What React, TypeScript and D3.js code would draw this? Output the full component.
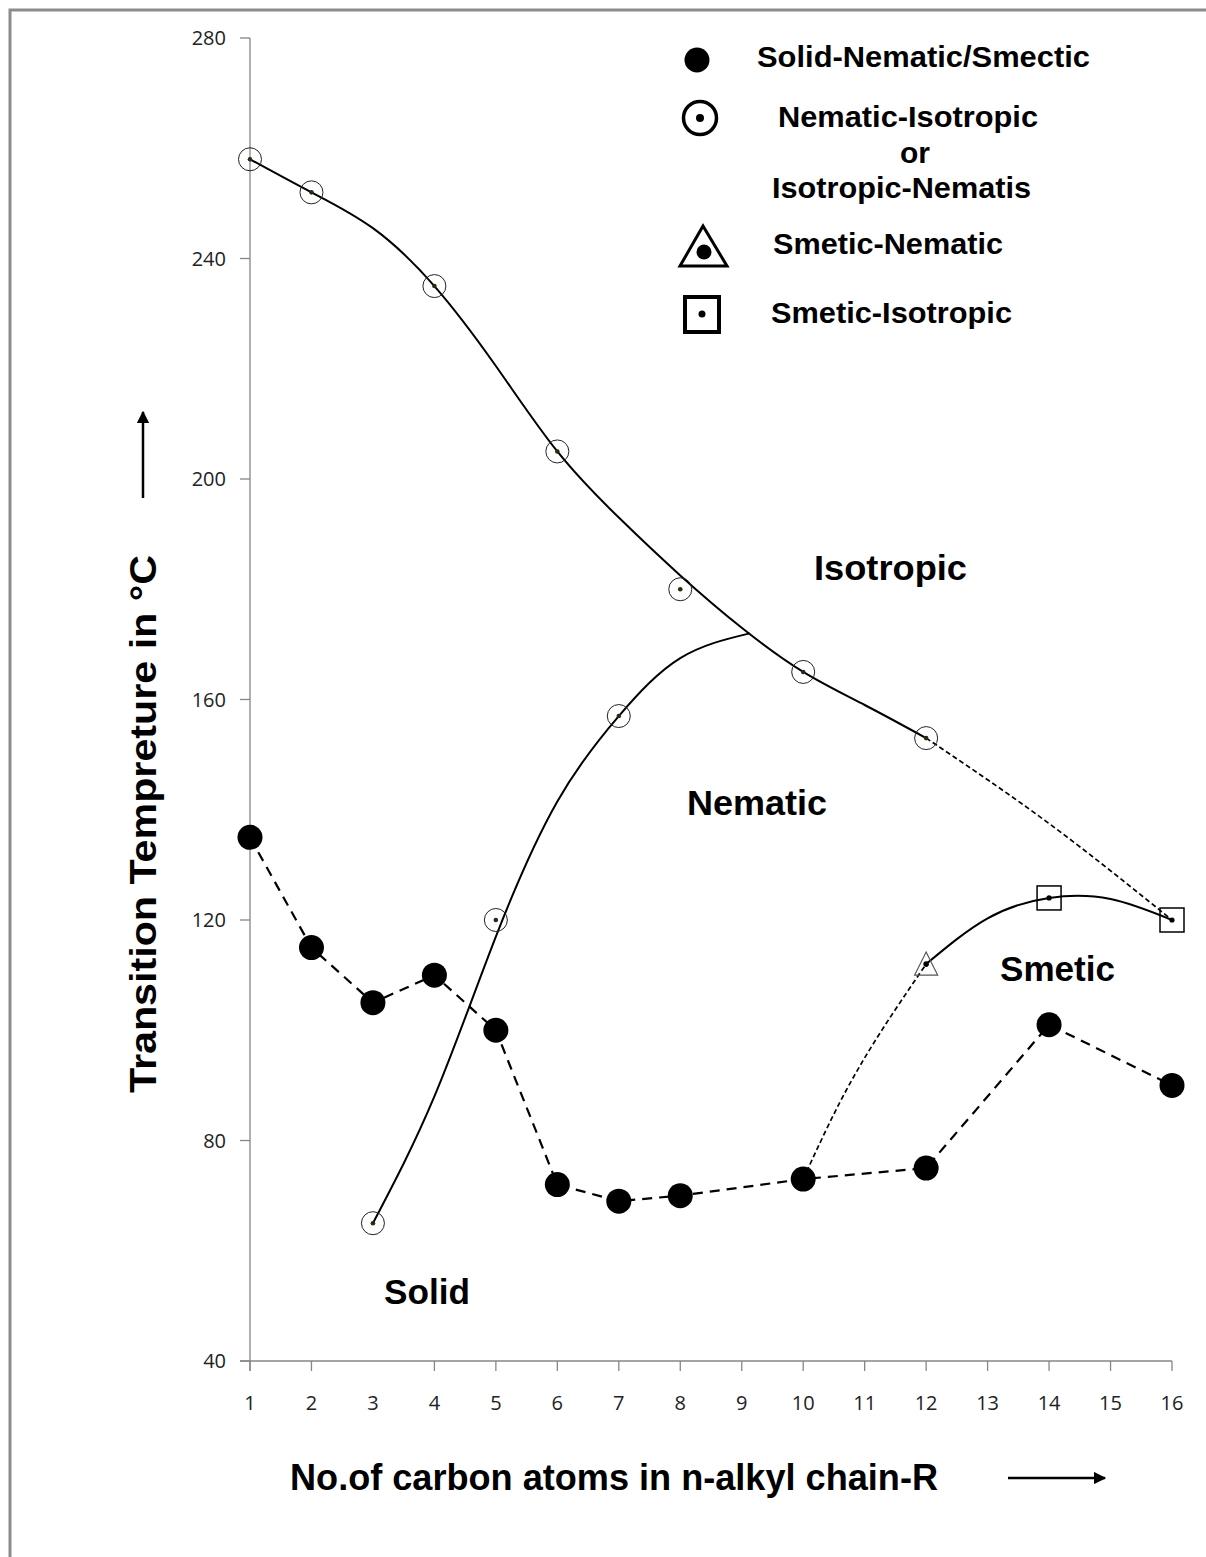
import React from 'react'
import * as d3 from 'd3'

// Solid-Nematic/Smectic (filled dots, dashed line)
const solidX = [1, 2, 3, 4, 5, 6, 7, 8, 10, 12, 14, 16]
const solidY = [135, 115, 105, 110, 100, 72, 69, 70, 73, 75, 101, 90]

// Nematic-Isotropic / Isotropic-Nematic (circled dots)
const niX = [1, 2, 3, 4, 5, 6, 7, 8, 10, 12]
const niY = [258, 252, 65, 235, 120, 205, 157, 180, 165, 153]

// Smetic-Nematic (triangle) and Smetic-Isotropic (squares)
const snX = [12]
const snY = [112]
const siX = [14, 16]
const siY = [124, 120]

// hand-drawn guide curves
const isoCurveX = [1, 2, 3, 4, 5, 6, 7, 8, 9, 10, 11, 12]
const isoCurveY = [258, 252, 245.5, 235, 220.5, 205, 193, 182.5, 173, 165, 159, 153]
const isoDashX = [12, 14, 16]
const isoDashY = [153, 137.5, 120]
const nemCurveX = [3, 4, 5, 6, 7, 8, 9.13]
const nemCurveY = [65, 88, 117, 141.5, 157, 167.5, 172]
const smDashX = [10, 10.6, 11.25, 12]
const smDashY = [73, 87, 99.5, 112]
const smCurveX = [12, 13, 14, 15, 16]
const smCurveY = [112, 120.3, 124, 123.8, 120]

const xTicks = d3.range(1, 17)
const yTicks = [40, 80, 120, 160, 200, 240, 280]

const zip = (xs: number[], ys: number[]) => xs.map((x, i) => [x, ys[i]] as [number, number])

export default function App() {
  const width = 1206
  const height = 1557

  const x = d3.scaleLinear().domain([1, 16]).range([250, 1172])
  const y = d3.scaleLinear().domain([40, 280]).range([1361, 38])

  const straight = d3.line<[number, number]>().x(d => x(d[0])).y(d => y(d[1]))
  const smooth = d3
    .line<[number, number]>()
    .x(d => x(d[0]))
    .y(d => y(d[1]))
    .curve(d3.curveNatural)

  const bold = { fontFamily: 'Liberation Sans, Arial, sans-serif', fontWeight: 700, fill: '#000' }
  const tickFont = { fontFamily: 'Open Sans, sans-serif', fontSize: 20, fill: '#222' }
  const axisColor = '#868686'

  return (
    <svg
      width={width}
      height={height}
      style={{ position: 'absolute', left: 0, top: 0, background: '#fff' }}
    >
      <defs>
        <marker id="arrow" viewBox="0 0 10 10" refX="9" refY="5" markerWidth="5" markerHeight="5" orient="auto">
          <path d="M0,0 L10,5 L0,10 z" fill="#000" />
        </marker>
      </defs>

      {/* frame */}
      <path d={`M10,${height} L10,10 L${width},10`} fill="none" stroke="#8c8c8c" strokeWidth={3} />

      {/* axes */}
      <line x1={x(1)} x2={x(1)} y1={y(280)} y2={y(40) + 10} stroke={axisColor} strokeWidth={1.3} />
      <line x1={x(1) - 10} x2={x(16)} y1={y(40)} y2={y(40)} stroke={axisColor} strokeWidth={1.3} />
      {yTicks.map(t => (
        <g key={t}>
          <line x1={x(1) - 10} x2={x(1)} y1={y(t)} y2={y(t)} stroke={axisColor} strokeWidth={1.3} />
          <text x={226} y={y(t) + 7} textAnchor="end" {...tickFont}>
            {t}
          </text>
        </g>
      ))}
      {xTicks.map(t => (
        <g key={t}>
          {t !== 3 && (
            <line x1={x(t)} x2={x(t)} y1={y(40)} y2={y(40) + 10} stroke={axisColor} strokeWidth={1.3} />
          )}
          <text x={x(t)} y={1410} textAnchor="middle" {...tickFont}>
            {t}
          </text>
        </g>
      ))}

      {/* curves */}
      <path d={smooth(zip(isoCurveX, isoCurveY)) || ''} fill="none" stroke="#000" strokeWidth={2} />
      <path d={smooth(zip(isoDashX, isoDashY)) || ''} fill="none" stroke="#000" strokeWidth={1.7} strokeDasharray="5,3" />
      <path d={smooth(zip(nemCurveX, nemCurveY)) || ''} fill="none" stroke="#000" strokeWidth={2} />
      <path d={smooth(zip(smDashX, smDashY)) || ''} fill="none" stroke="#000" strokeWidth={1.7} strokeDasharray="5,3" />
      <path d={smooth(zip(smCurveX, smCurveY)) || ''} fill="none" stroke="#000" strokeWidth={2} />
      <path d={straight(zip(solidX, solidY)) || ''} fill="none" stroke="#000" strokeWidth={2.2} strokeDasharray="10,7" />

      {/* markers */}
      {zip(solidX, solidY).map(([cx, cy], i) => (
        <circle key={'s' + i} cx={x(cx)} cy={y(cy)} r={12.5} fill="#000" />
      ))}
      {zip(niX, niY).map(([cx, cy], i) => (
        <g key={'n' + i}>
          <circle cx={x(cx)} cy={y(cy)} r={11.5} fill="none" stroke="#222" strokeWidth={1} />
          <circle cx={x(cx)} cy={y(cy)} r={2.3} fill="#2a2a12" />
        </g>
      ))}
      {zip(snX, snY).map(([cx, cy], i) => (
        <g key={'t' + i}>
          <path
            d={`M${x(cx)},${y(cy) - 12} L${x(cx) + 11.5},${y(cy) + 11} L${x(cx) - 11.5},${y(cy) + 11} Z`}
            fill="none"
            stroke="#555"
            strokeWidth={1.2}
          />
          <circle cx={x(cx)} cy={y(cy)} r={2.8} fill="#000" />
        </g>
      ))}
      {zip(siX, siY).map(([cx, cy], i) => (
        <g key={'q' + i}>
          <rect x={x(cx) - 12} y={y(cy) - 12} width={24} height={24} fill="none" stroke="#000" strokeWidth={1.5} />
          <circle cx={x(cx)} cy={y(cy)} r={2.6} fill="#000" />
        </g>
      ))}

      {/* legend */}
      <circle cx={697} cy={60} r={12.5} fill="#000" />
      <circle cx={700} cy={118} r={16.5} fill="none" stroke="#000" strokeWidth={3.5} />
      <circle cx={700} cy={118} r={4} fill="#000" />
      <path d="M703,226 L727,266 L680,266 Z" fill="none" stroke="#000" strokeWidth={3} strokeLinejoin="miter" />
      <circle cx={704} cy={252} r={7.5} fill="#000" />
      <rect x={685} y={297} width={34} height={35} fill="none" stroke="#000" strokeWidth={4} />
      <circle cx={702} cy={314} r={3.5} fill="#000" />

      <text x={757} y={67} fontSize={30} textLength={333} lengthAdjust="spacingAndGlyphs" {...bold}>
        Solid-Nematic/Smectic
      </text>
      <text x={778} y={127} fontSize={30} textLength={260} lengthAdjust="spacingAndGlyphs" {...bold}>
        Nematic-Isotropic
      </text>
      <text x={915} y={163} fontSize={30} textAnchor="middle" {...bold}>
        or
      </text>
      <text x={772} y={198} fontSize={30} textLength={259} lengthAdjust="spacingAndGlyphs" {...bold}>
        Isotropic-Nematis
      </text>
      <text x={773} y={254} fontSize={30} textLength={230} lengthAdjust="spacingAndGlyphs" {...bold}>
        Smetic-Nematic
      </text>
      <text x={771} y={323} fontSize={30} textLength={241} lengthAdjust="spacingAndGlyphs" {...bold}>
        Smetic-Isotropic
      </text>

      {/* region labels */}
      <text x={814} y={580} fontSize={35} textLength={153} lengthAdjust="spacingAndGlyphs" {...bold}>
        Isotropic
      </text>
      <text x={687} y={815} fontSize={35} textLength={140} lengthAdjust="spacingAndGlyphs" {...bold}>
        Nematic
      </text>
      <text x={1000} y={981} fontSize={35} textLength={115} lengthAdjust="spacingAndGlyphs" {...bold}>
        Smetic
      </text>
      <text x={384} y={1304} fontSize={35} textLength={86} lengthAdjust="spacingAndGlyphs" {...bold}>
        Solid
      </text>

      {/* axis titles */}
      <text x={290} y={1490} fontSize={36} textLength={648} lengthAdjust="spacingAndGlyphs" {...bold}>
        No.of carbon atoms in n-alkyl chain-R
      </text>
      <line x1={1008} x2={1105} y1={1478} y2={1478} stroke="#000" strokeWidth={2.5} markerEnd="url(#arrow)" />

      <text
        transform="translate(156,1093) rotate(-90)"
        x={0}
        y={0}
        fontSize={36}
        textLength={538}
        lengthAdjust="spacingAndGlyphs"
        {...bold}
      >
        Transition Tempreture in °C
      </text>
      <line x1={143} x2={143} y1={498} y2={412} stroke="#000" strokeWidth={2.5} markerEnd="url(#arrow)" />
    </svg>
  )
}
